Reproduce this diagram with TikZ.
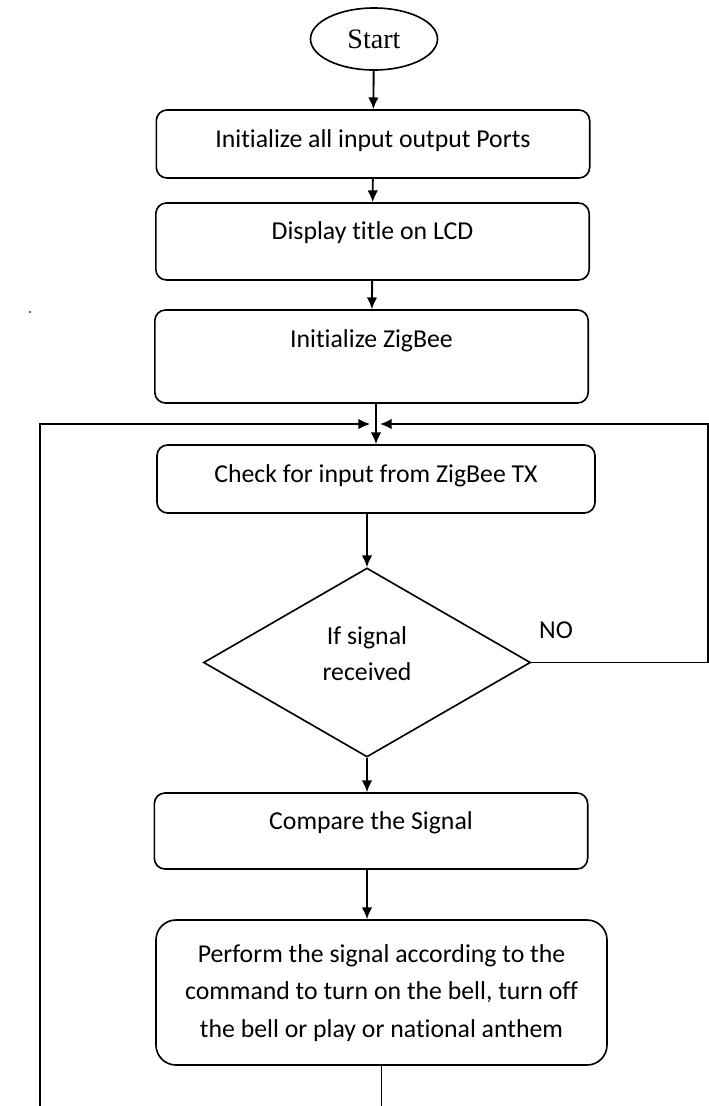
\documentclass[tikz,border=0pt]{standalone}
\usepackage{fontspec}
\setmainfont{Carlito}[Ligatures=NoCommon]
\newfontfamily\startfont{Liberation Serif}
\usetikzlibrary{arrows.meta}
\usetikzlibrary{shapes.geometric}
\tikzset{stage/.style = {draw, line width=0.7pt, rounded corners=0.16cm,
                         minimum width=6.5cm, inner sep=0pt,
                         text height=8pt, font=\fontsize{11}{16}\selectfont},
         flow/.style = {line width=0.8pt}}

\begin{document}
\begin{tikzpicture}[x=0.015cm, y=-0.015cm, >={Latex[length=5pt,width=4.5pt]}]
      \useasboundingbox (0,0) rectangle (709,1106);
      \node [draw, ellipse, line width=0.7pt, minimum width=1.905cm, minimum height=0.93cm,
             inner sep=0pt, font=\startfont\fontsize{12}{14}\selectfont] (start) at (374,39) {Start};
      \node [stage, minimum height=1.02cm, text depth=5.4pt] (ports) at (373,144) {Initialize all input output Ports};
      \node [stage, minimum height=1.155cm, text depth=9.3pt] (lcd) at (372.5,241.5) {Display title on LCD};
      \node [stage, minimum height=1.395cm, text depth=15.3pt] (zigbee) at (371.5,356.5) {Initialize ZigBee};
      \node [stage, minimum width=6.57cm, minimum height=1.02cm, text depth=4.6pt] (check) at (376,479) {Check for input from ZigBee TX};
      \node [draw, diamond, line width=0.7pt, minimum width=4.905cm, minimum height=2.835cm,
             inner sep=0pt, align=center, text height=23pt, text depth=8pt,
             font=\fontsize{11}{15}\selectfont] (signal) at (367,662.5) {If signal\\received};
      \node [font=\fontsize{11}{13}\selectfont] (no) at (556,630) {NO};
      \node [stage, minimum height=1.14cm, text depth=9.7pt] (compare) at (371,831) {Compare the Signal};
      \node [stage, minimum width=6.765cm, minimum height=2.175cm, rounded corners=0.3cm,
             align=center, text height=41pt, text depth=2.7pt] (perform) at (381.5,992.5)
             {Perform the signal according to the\\command to turn on the bell, turn off\\the bell or play or national anthem};
      \coordinate (join) at (376,424);
      \coordinate (rim) at (708,424);
      \coordinate (low) at (40,1106);

      \draw [flow, ->] (start) -- (ports);
      \draw [flow, ->] (ports) -- (lcd);
      \draw [flow, ->] (lcd) -- (zigbee);
      \draw [flow, ->] (zigbee.south -| join) -- (check.north -| join);
      \draw [flow, ->] (check.south -| signal) -- (signal.north);
      \draw [flow, ->] (signal.south) -- (compare.north -| signal);
      \draw [flow, ->] (compare.south -| signal) -- (perform.north -| signal);
      \draw [flow] (perform.south) -- (perform.south |- low);
      \draw [flow, ->, shorten >=2.5pt] (low) |- (join);
      \draw [flow, ->, shorten >=1.7pt] (signal.east) -| (rim) -- (join);
      \fill [black!60] (29,311) rectangle (31,313);
\end{tikzpicture}
\end{document}
